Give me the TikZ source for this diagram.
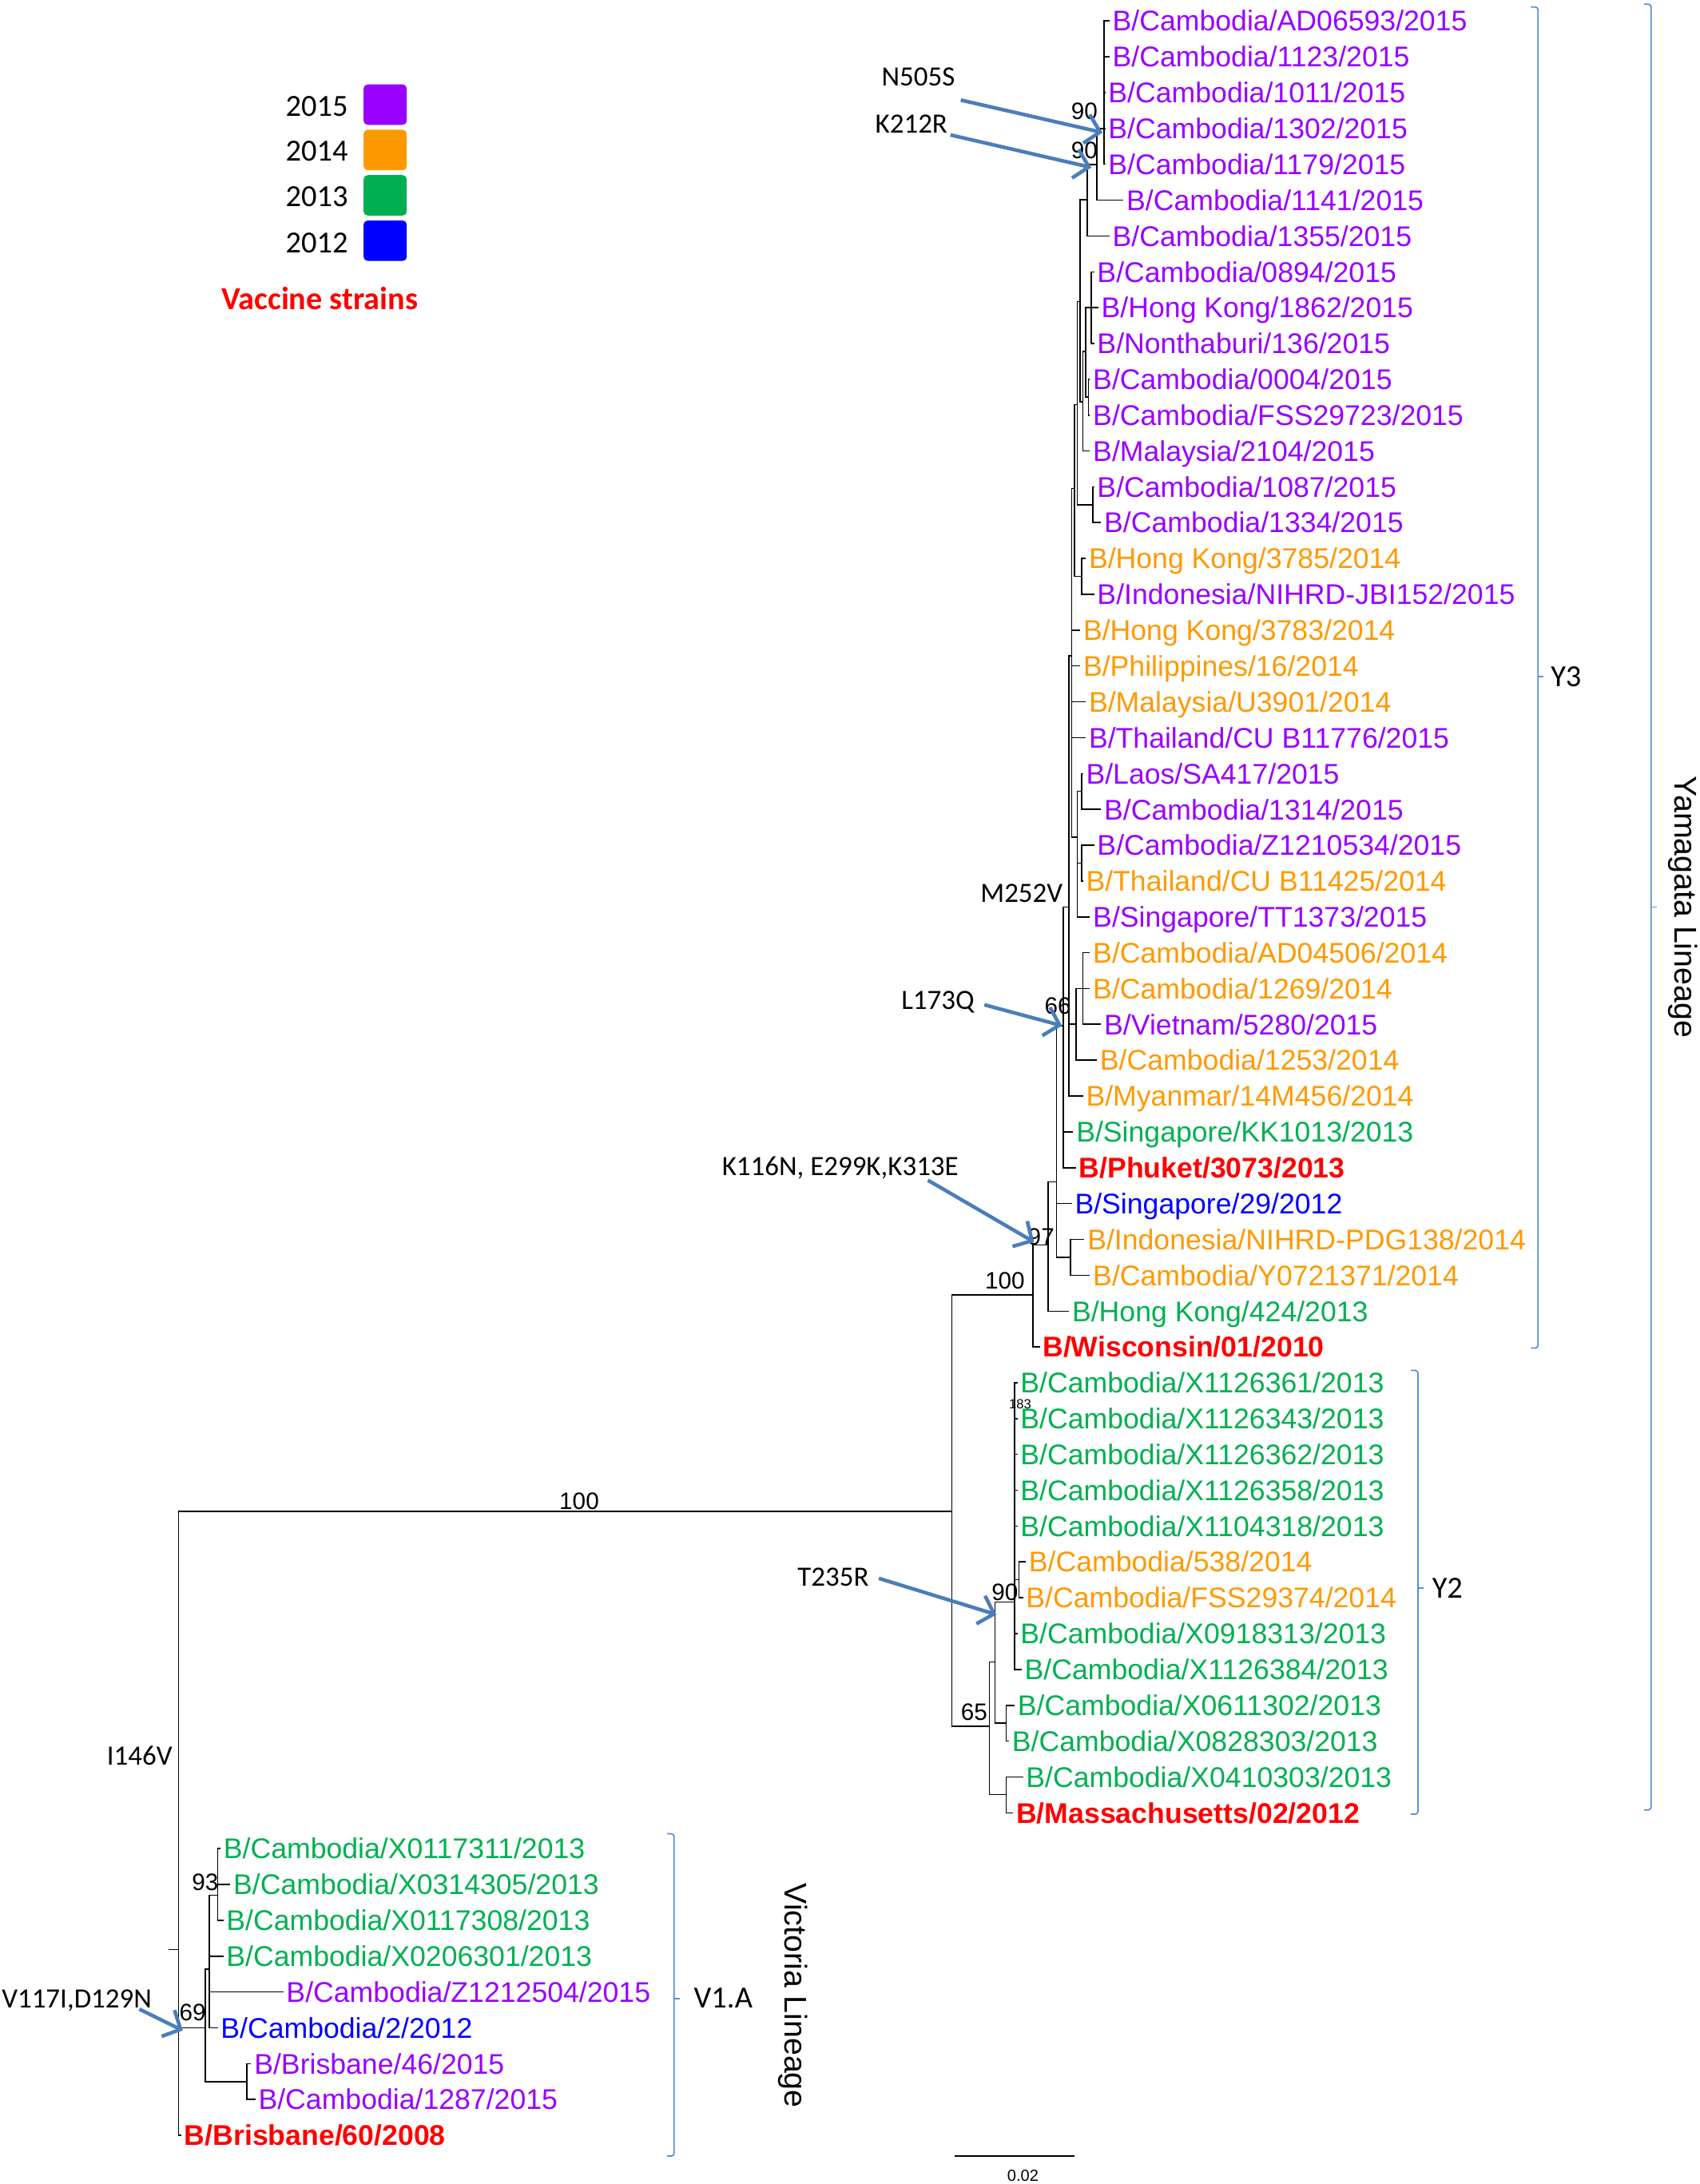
\documentclass[tikz,border=0pt]{standalone}
\usepackage{fontspec}
\setmainfont{Liberation Sans}
\newfontfamily\calib{Carlito}
\usetikzlibrary{arrows.meta}
\definecolor{c2015}{HTML}{9900FF}
\definecolor{c2014}{HTML}{FF9900}
\definecolor{c2013}{HTML}{00B050}
\definecolor{c2012}{HTML}{0000FF}
\definecolor{cvacc}{HTML}{FF0000}
\definecolor{arrowblue}{HTML}{4A7EBB}
\definecolor{cladeblue}{HTML}{5B8FD0}
\newcommand{\tipfont}{\fontsize{20.4}{24}\selectfont}
\newcommand{\bootfont}{\fontsize{17}{20}\selectfont}
\newcommand{\mutfont}{\calib\fontsize{20}{24}\selectfont}
\newcommand{\legfont}{\calib\fontsize{22}{26}\selectfont}
\tikzstyle{tip}=[anchor=west, inner xsep=2pt, inner ysep=0, text height=14.6pt, text depth=0pt, font=\tipfont]
\tikzstyle{yr15}=[tip, text=c2015]
\tikzstyle{yr14}=[tip, text=c2014]
\tikzstyle{yr13}=[tip, text=c2013]
\tikzstyle{yr12}=[tip, text=c2012]
\tikzstyle{vacc}=[tip, text=cvacc, font=\tipfont\bfseries]
\tikzstyle{branch}=[line width=0.9pt]
\tikzstyle{boot}=[font=\bootfont, inner sep=0]
\tikzstyle{mutlabel}=[font=\mutfont, inner sep=0, text height=13pt, text depth=0pt]
\tikzstyle{mutarrow}=[draw=arrowblue, line width=2.6pt, -{Straight Barb[length=10pt,width=21pt]}]
\tikzstyle{clade}=[draw=cladeblue, line width=1pt, rounded corners=2pt]
\tikzstyle{cladelabel}=[font=\legfont, inner sep=0, anchor=west]
\tikzstyle{lineage}=[font=\fontsize{22.5}{26}\selectfont, inner sep=0, rotate=-90]
\tikzstyle{legbox}=[draw=none, rounded corners=3pt, minimum width=31pt, minimum height=29pt, inner sep=0]

\begin{document}
\begin{tikzpicture}[x=1pt, y=-1pt]
    \useasboundingbox (0,0) rectangle (1218,1565);
    % legend
    \node[font=\legfont, inner sep=0] (l15) at (227,76) {2015};
    \node[font=\legfont, inner sep=0] (l14) at (227,108) {2014};
    \node[font=\legfont, inner sep=0] (l13) at (227,141) {2013};
    \node[font=\legfont, inner sep=0] (l12) at (227,174) {2012};
    \node[legbox, fill=c2015] (k15) at (276,75) {};
    \node[legbox, fill=c2014] (k14) at (276,107.5) {};
    \node[legbox, fill=c2013] (k13) at (276,140) {};
    \node[legbox, fill=c2012] (k12) at (276,172.5) {};
    \node[font=\calib\fontsize{23}{27}\selectfont\bfseries, text=cvacc, inner sep=0] (lvacc) at (229,214) {Vaccine strains};

    % Yamagata Y3 tips
    \node[yr15] (t1) at (795,15.0) {B/Cambodia/AD06593/2015};
    \node[yr15] (t2) at (795,40.7) {B/Cambodia/1123/2015};
    \node[yr15] (t3) at (792,66.4) {B/Cambodia/1011/2015};
    \node[yr15] (t4) at (792,92.0) {B/Cambodia/1302/2015};
    \node[yr15] (t5) at (792,117.7) {B/Cambodia/1179/2015};
    \node[yr15] (t6) at (805,143.4) {B/Cambodia/1141/2015};
    \node[yr15] (t7) at (795,169.1) {B/Cambodia/1355/2015};
    \node[yr15] (t8) at (784,194.8) {B/Cambodia/0894/2015};
    \node[yr15] (t9) at (787,220.4) {B/Hong Kong/1862/2015};
    \node[yr15] (t10) at (784,246.1) {B/Nonthaburi/136/2015};
    \node[yr15] (t11) at (781,271.8) {B/Cambodia/0004/2015};
    \node[yr15] (t12) at (781,297.5) {B/Cambodia/FSS29723/2015};
    \node[yr15] (t13) at (781,323.2) {B/Malaysia/2104/2015};
    \node[yr15] (t14) at (784,348.8) {B/Cambodia/1087/2015};
    \node[yr15] (t15) at (789,374.5) {B/Cambodia/1334/2015};
    \node[yr14] (t16) at (778,400.2) {B/Hong Kong/3785/2014};
    \node[yr15] (t17) at (784,425.9) {B/Indonesia/NIHRD-JBI152/2015};
    \node[yr14] (t18) at (774,451.6) {B/Hong Kong/3783/2014};
    \node[yr14] (t19) at (774,477.2) {B/Philippines/16/2014};
    \node[yr14] (t20) at (778,502.9) {B/Malaysia/U3901/2014};
    \node[yr15] (t21) at (778,528.6) {B/Thailand/CU B11776/2015};
    \node[yr15] (t22) at (776,554.3) {B/Laos/SA417/2015};
    \node[yr15] (t23) at (789,580.0) {B/Cambodia/1314/2015};
    \node[yr15] (t24) at (784,605.6) {B/Cambodia/Z1210534/2015};
    \node[yr14] (t25) at (776,631.3) {B/Thailand/CU B11425/2014};
    \node[yr15] (t26) at (781,657.0) {B/Singapore/TT1373/2015};
    \node[yr14] (t27) at (781,682.7) {B/Cambodia/AD04506/2014};
    \node[yr14] (t28) at (781,708.4) {B/Cambodia/1269/2014};
    \node[yr15] (t29) at (789,734.0) {B/Vietnam/5280/2015};
    \node[yr14] (t30) at (786,759.7) {B/Cambodia/1253/2014};
    \node[yr14] (t31) at (776,785.4) {B/Myanmar/14M456/2014};
    \node[yr13] (t32) at (769,811.1) {B/Singapore/KK1013/2013};
    \node[vacc] (t33) at (771,836.8) {B/Phuket/3073/2013};
    \node[yr12] (t34) at (768,862.4) {B/Singapore/29/2012};
    \node[yr14] (t35) at (777,888.1) {B/Indonesia/NIHRD-PDG138/2014};
    \node[yr14] (t36) at (781,913.8) {B/Cambodia/Y0721371/2014};
    \node[yr13] (t37) at (766,939.5) {B/Hong Kong/424/2013};
    \node[vacc] (t38) at (745,965.2) {B/Wisconsin/01/2010};
    % Yamagata Y2 tips
    \node[yr13] (t39) at (729,990.8) {B/Cambodia/X1126361/2013};
    \node[yr13] (t40) at (729,1016.5) {B/Cambodia/X1126343/2013};
    \node[yr13] (t41) at (729,1042.2) {B/Cambodia/X1126362/2013};
    \node[yr13] (t42) at (729,1067.9) {B/Cambodia/X1126358/2013};
    \node[yr13] (t43) at (729,1093.6) {B/Cambodia/X1104318/2013};
    \node[yr14] (t44) at (735,1119.2) {B/Cambodia/538/2014};
    \node[yr14] (t45) at (733,1144.9) {B/Cambodia/FSS29374/2014};
    \node[yr13] (t46) at (729,1170.6) {B/Cambodia/X0918313/2013};
    \node[yr13] (t47) at (732,1196.3) {B/Cambodia/X1126384/2013};
    \node[yr13] (t48) at (727,1222.0) {B/Cambodia/X0611302/2013};
    \node[yr13] (t49) at (723,1247.6) {B/Cambodia/X0828303/2013};
    \node[yr13] (t50) at (733,1273.3) {B/Cambodia/X0410303/2013};
    \node[vacc] (t51) at (726,1299.0) {B/Massachusetts/02/2012};
    % Victoria tips
    \node[yr13] (t52) at (158,1324.7) {B/Cambodia/X0117311/2013};
    \node[yr13] (t53) at (165,1350.4) {B/Cambodia/X0314305/2013};
    \node[yr13] (t54) at (160,1376.0) {B/Cambodia/X0117308/2013};
    \node[yr13] (t55) at (160,1401.7) {B/Cambodia/X0206301/2013};
    \node[yr15] (t56) at (203,1427.4) {B/Cambodia/Z1212504/2015};
    \node[yr12] (t57) at (156,1453.1) {B/Cambodia/2/2012};
    \node[yr15] (t58) at (180,1478.8) {B/Brisbane/46/2015};
    \node[yr15] (t59) at (183,1504.4) {B/Cambodia/1287/2015};
    \node[vacc] (t60) at (130,1530.1) {B/Brisbane/60/2008};

    % internal nodes
    \coordinate (nA) at (791,92);
    \coordinate (nB) at (786,118);
    \coordinate (nC) at (779,143);
    \coordinate (nD1) at (782,220.4);
    \coordinate (nD2) at (780,284.6);
    \coordinate (nD3) at (778,252);
    \coordinate (nD4) at (776,288);
    \coordinate (nE) at (774,216);
    \coordinate (nD5) at (783,361.7);
    \coordinate (nU2) at (772,290);
    \coordinate (nU3) at (775,413);
    \coordinate (nU1) at (770,350);
    \coordinate (nL1) at (775,567);
    \coordinate (nL2) at (775,618.5);
    \coordinate (nL) at (772,600);
    \coordinate (nU) at (768,470);
    \coordinate (nV) at (776,708.4);
    \coordinate (nC14) at (771,734);
    \coordinate (nM) at (766,650);
    \coordinate (n66) at (762,735);
    \coordinate (nIndo) at (767,901);
    \coordinate (nNa) at (757,847);
    \coordinate (n97) at (751,892);
    \coordinate (nY3) at (740,928);
    \coordinate (nFS) at (730,1132);
    \coordinate (n90) at (727,1148);
    \coordinate (nX06) at (721,1234.8);
    \coordinate (n713) at (713,1191);
    \coordinate (nMass) at (721,1286);
    \coordinate (n65) at (709,1237);
    \coordinate (nY) at (682,1083);
    \coordinate (n93) at (156,1358);
    \coordinate (nV1) at (150,1411);
    \coordinate (nBr) at (177,1491.6);
    \coordinate (n69) at (147,1453);
    \coordinate (nRoot) at (128,1397);
    \coordinate (nStub) at (121,1397);

    % branches
    \draw[branch] (nA) |- (t1) (nA) |- (t2) (nA) |- (t3) (nA) |- (t4) (nA) |- (t5);
    \draw[branch] (nB) |- (nA) (nB) |- (t6);
    \draw[branch] (nC) |- (nB) (nC) |- (t7);
    \draw[branch] (nD1) |- (t8) (nD1) |- (t9) (nD1) |- (t10);
    \draw[branch] (nD2) |- (t11) (nD2) |- (t12);
    \draw[branch] (nD3) |- (nD1) (nD3) |- (nD2);
    \draw[branch] (nD4) |- (nD3) (nD4) |- (t13);
    \draw[branch] (nE) |- (nC) (nE) |- (nD4);
    \draw[branch] (nD5) |- (t14) (nD5) |- (t15);
    \draw[branch] (nU2) |- (nE) (nU2) |- (nD5);
    \draw[branch] (nU3) |- (t16) (nU3) |- (t17);
    \draw[branch] (nU1) |- (nU2) (nU1) |- (nU3);
    \draw[branch] (nL1) |- (t22) (nL1) |- (t23);
    \draw[branch] (nL2) |- (t24) (nL2) |- (t25);
    \draw[branch] (nL) |- (nL1) (nL) |- (nL2) (nL) |- (t26);
    \draw[branch] (nU) |- (nU1) (nU) |- (t18) (nU) |- (t19) (nU) |- (t20) (nU) |- (t21) (nU) |- (nL);
    \draw[branch] (nV) |- (t27) (nV) |- (t28) (nV) |- (t29);
    \draw[branch] (nC14) |- (nV) (nC14) |- (t30);
    \draw[branch] (nM) |- (nU) (nM) |- (nC14) (nM) |- (t31);
    \draw[branch] (n66) |- (nM) (n66) |- (t32) (n66) |- (t33);
    \draw[branch] (nIndo) |- (t35) (nIndo) |- (t36);
    \draw[branch] (nNa) |- (n66) (nNa) |- (t34) (nNa) |- (nIndo);
    \draw[branch] (n97) |- (nNa) (n97) |- (t37);
    \draw[branch] (nY3) |- (n97) (nY3) |- (t38);
    \draw[branch] (nFS) |- (t44) (nFS) |- (t45);
    \draw[branch] (n90) |- (t39) (n90) |- (t40) (n90) |- (t41) (n90) |- (t42) (n90) |- (t43)
                  (n90) |- (nFS) (n90) |- (t46) (n90) |- (t47);
    \draw[branch] (nX06) |- (t48) (nX06) |- (t49);
    \draw[branch] (n713) |- (n90) (n713) |- (nX06);
    \draw[branch] (nMass) |- (t50) (nMass) |- (t51);
    \draw[branch] (n65) |- (n713) (n65) |- (nMass);
    \draw[branch] (nY) |- (nY3) (nY) |- (n65);
    \draw[branch] (n93) |- (t52) (n93) |- (t53) (n93) |- (t54);
    \draw[branch] (nV1) |- (n93) (nV1) |- (t55) (nV1) |- (t56) (nV1) |- (t57);
    \draw[branch] (nBr) |- (t58) (nBr) |- (t59);
    \draw[branch] (n69) |- (nV1) (n69) |- (nBr);
    \draw[branch] (nRoot) |- (nY) (nRoot) |- (n69) (nRoot) |- (t60);
    \draw[branch] (nStub) -- (nRoot);

    % bootstrap values
    \node[boot] (b90a) at (777,80) {90};
    \node[boot] (b90b) at (777,108) {90};
    \node[boot] (b66) at (758,721) {66};
    \node[boot] (b97) at (746,886) {97};
    \node[boot] (b100a) at (720,918) {100};
    \node[boot] (b100b) at (415,1076) {100};
    \node[boot, font=\fontsize{9.5}{11}\selectfont] (b183) at (731,1006) {183};
    \node[boot] (b90c) at (720,1141) {90};
    \node[boot] (b65) at (698,1227) {65};
    \node[boot] (b93) at (147,1349) {93};
    \node[boot] (b69) at (138,1442) {69};

    % mutations
    \node[mutlabel] (mN505S) at (658,55) {N505S};
    \node[mutlabel] (mK212R) at (653,89) {K212R};
    \node[mutlabel] (mM252V) at (732,640) {M252V};
    \node[mutlabel] (mL173Q) at (672,717) {L173Q};
    \node[mutlabel] (mK116N) at (602,836) {K116N, E299K,K313E};
    \node[mutlabel] (mT235R) at (597,1130) {T235R};
    \node[mutlabel] (mI146V) at (100,1258) {I146V};
    \node[mutlabel] (mV117I) at (55,1432) {V117I,D129N};
    \coordinate (aN505S) at (790,95);
    \coordinate (aK212R) at (782,120);
    \coordinate (aL173Q) at (761,735);
    \coordinate (aK116N) at (741,890);
    \coordinate (aT235R) at (714,1157);
    \coordinate (aV117I) at (131,1455);
    \draw[mutarrow] ([shift={(4,10)}]mN505S.south east) -- (aN505S);
    \draw[mutarrow] ([shift={(2,1)}]mK212R.south east) -- (aK212R);
    \draw[mutarrow] ([shift={(7,3)}]mL173Q.east) -- (aL173Q);
    \draw[mutarrow] ([shift={(-22,3)}]mK116N.south east) -- (aK116N);
    \draw[mutarrow] ([shift={(7,1)}]mT235R.east) -- (aT235R);
    \draw[mutarrow] ([shift={(-9,1)}]mV117I.south east) -- (aV117I);

    % clade brackets
    \draw[clade] (1097,5) -| (1102,966) -- (1097,966);
    \draw[clade] (1102,485) -- (1106,485);
    \node[cladelabel] (cY3) at (1111,485) {Y3};
    \draw[clade] (1178,3) -| (1183,1297) -- (1178,1297);
    \draw[clade] (1183,650) -- (1187,650);
    \node[lineage] (cYam) at (1206,650) {Yamagata Lineage};
    \draw[clade] (1011,982) -| (1016,1300) -- (1011,1300);
    \draw[clade] (1016,1138) -- (1020,1138);
    \node[cladelabel] (cY2) at (1026,1138) {Y2};
    \draw[clade] (478,1314) -| (483,1545) -- (478,1545);
    \draw[clade] (483,1432) -- (487,1432);
    \node[cladelabel] (cV1A) at (497,1432) {V1.A};
    \node[lineage] (cVic) at (568,1430) {Victoria Lineage};

    % scale bar
    \coordinate (sbL) at (684,1545);
    \coordinate (sbR) at (770,1545);
    \draw[line width=0.9pt] (sbL) -- (sbR);
    \node[font=\fontsize{11.5}{14}\selectfont, inner sep=0] (sb) at (733,1559) {0.02};
\end{tikzpicture}
\end{document}
